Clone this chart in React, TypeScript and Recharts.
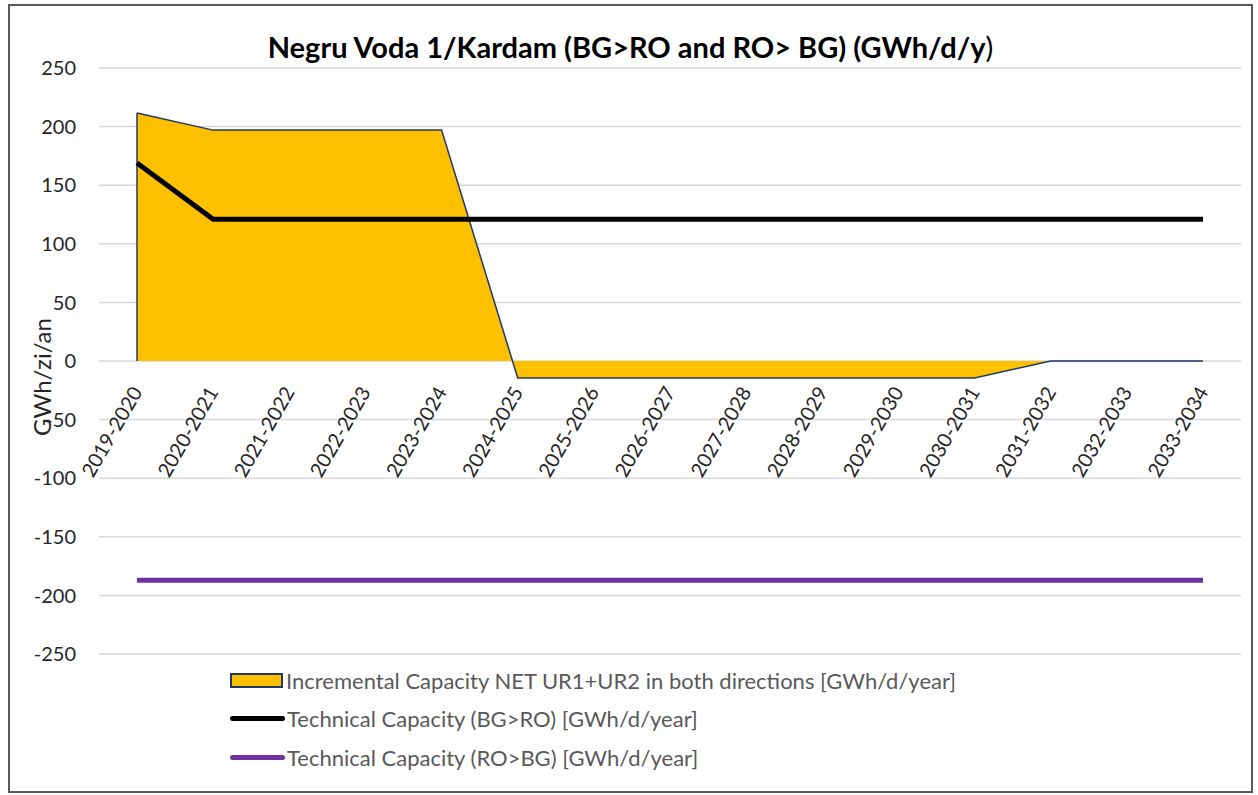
import { ComposedChart, Area, Line, XAxis, YAxis, CartesianGrid, ReferenceLine } from 'recharts';

const categories = [
    '2019-2020', '2020-2021', '2021-2022', '2022-2023', '2023-2024',
    '2024-2025', '2025-2026', '2026-2027', '2027-2028', '2028-2029',
    '2029-2030', '2030-2031', '2031-2032', '2032-2033', '2033-2034',
];
const incremental = [211.6, 197, 197, 197, 197, -14.5, -14.5, -14.5, -14.5, -14.5, -14.5, -14.5, 0, 0, 0];
const technicalBgRo = [169, 121, 121, 121, 121, 121, 121, 121, 121, 121, 121, 121, 121, 121, 121];
const technicalRoBg = [-187, -187, -187, -187, -187, -187, -187, -187, -187, -187, -187, -187, -187, -187, -187];
const yTicks = [250, 200, 150, 100, 50, 0, -50, -100, -150, -200, -250];

const data = categories.map((name, i) => ({
    name,
    incremental: incremental[i],
    bgRo: technicalBgRo[i],
    roBg: technicalRoBg[i],
}));

const FONT = 'Lato, "Open Sans", sans-serif';
const CHART_W = 1241;
const CHART_H = 785;
const MARGIN = { top: 62, right: 10, bottom: 107, left: 29 };
const X_AXIS_H = 30;
const PLOT_H = CHART_H - MARGIN.top - MARGIN.bottom - X_AXIS_H;
// the category axis sits on the zero line, as in the original
const ZERO_Y = MARGIN.top + PLOT_H * (250 / 500);

function CategoryTick({ x, payload }: any) {
    const ax = x + 6;
    const ay = ZERO_Y + 31;
    return (
        <text
            x={ax}
            y={ay}
            textAnchor="end"
            fontSize={20}
            fill="#262626"
            fontFamily={FONT}
            transform={`rotate(-60, ${ax}, ${ay})`}
        >
            {payload.value}
        </text>
    );
}

const legendItems = [
    { label: 'Incremental Capacity NET UR1+UR2 in both directions [GWh/d/year]', kind: 'area', color: '#FFC000' },
    { label: 'Technical Capacity (BG>RO) [GWh/d/year]', kind: 'line', color: '#000000' },
    { label: 'Technical Capacity (RO>BG) [GWh/d/year]', kind: 'line', color: '#7030A0' },
];

export default function App() {
    return (
        <div
            style={{
                position: 'absolute',
                left: 8,
                top: 4,
                width: CHART_W,
                height: CHART_H,
                border: '2px solid #595959',
                background: '#fff',
                fontFamily: FONT,
            }}
        >
            <div
                style={{
                    position: 'absolute',
                    top: 23,
                    left: 0,
                    width: CHART_W,
                    textAlign: 'center',
                    fontSize: 29,
                    lineHeight: '35px',
                    fontWeight: 700,
                    color: '#000',
                }}
            >
                Negru Voda 1/Kardam (BG&gt;RO and RO&gt; BG) (GWh/d/y<span style={{ fontWeight: 400 }}>)</span>
            </div>
            <ComposedChart width={CHART_W} height={CHART_H} data={data} margin={MARGIN}>
                <CartesianGrid vertical={false} stroke="#d9d9d9" strokeWidth={1.5} />
                <XAxis
                    dataKey="name"
                    height={X_AXIS_H}
                    axisLine={false}
                    tickLine={false}
                    interval={0}
                    padding={{ left: 38, right: 38 }}
                    tick={<CategoryTick />}
                />
                <YAxis
                    type="number"
                    domain={[-250, 250]}
                    ticks={yTicks}
                    width={60}
                    axisLine={false}
                    tickLine={false}
                    tickSize={6}
                    tickMargin={17}
                    tick={{ fill: '#262626', fontSize: 20, fontFamily: FONT }}
                    label={{
                        value: 'GWh/zi/an',
                        angle: -90,
                        position: 'insideLeft',
                        offset: 3,
                        dy: 16,
                        style: { fill: '#262626', fontSize: 24, fontFamily: FONT, textAnchor: 'middle' },
                    }}
                />
                <Area
                    type="linear"
                    dataKey="incremental"
                    baseValue={0}
                    fill="#FFC000"
                    fillOpacity={1}
                    stroke="#203864"
                    strokeWidth={1.5}
                    isAnimationActive={false}
                />
                <ReferenceLine
                    segment={[
                        { x: categories[0], y: 0 },
                        { x: categories[0], y: incremental[0] },
                    ]}
                    stroke="#203864"
                    strokeWidth={1.5}
                />
                <Line
                    type="linear"
                    dataKey="bgRo"
                    stroke="#000000"
                    strokeWidth={5}
                    dot={false}
                    isAnimationActive={false}
                />
                <Line
                    type="linear"
                    dataKey="roBg"
                    stroke="#7030A0"
                    strokeWidth={5}
                    dot={false}
                    isAnimationActive={false}
                />
            </ComposedChart>
            <div style={{ position: 'absolute', left: 220, top: 655 }}>
                {legendItems.map((item) => (
                    <div
                        key={item.label}
                        style={{ display: 'flex', alignItems: 'center', height: 38.5, fontSize: 22, color: '#595959' }}
                    >
                        {item.kind === 'area' ? (
                            <span
                                style={{
                                    display: 'inline-block',
                                    width: 49,
                                    height: 11,
                                    background: item.color,
                                    border: '2px solid #203864',
                                    marginRight: 3,
                                }}
                            />
                        ) : (
                            <span
                                style={{
                                    display: 'inline-block',
                                    width: 55,
                                    height: 5,
                                    borderRadius: 3,
                                    background: item.color,
                                    marginRight: 2,
                                }}
                            />
                        )}
                        <span>{item.label}</span>
                    </div>
                ))}
            </div>
        </div>
    );
}
